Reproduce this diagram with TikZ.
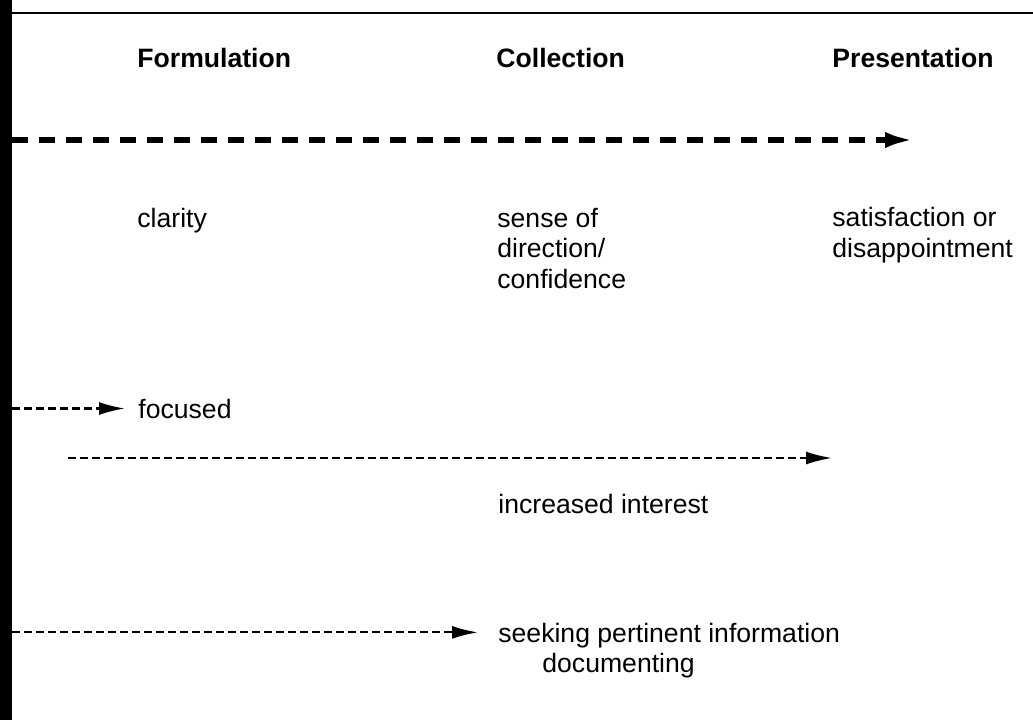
\documentclass[tikz,border=0pt]{standalone}
\usepackage{fontspec}
\setmainfont{Liberation Sans}
\usetikzlibrary{positioning, arrows.meta}

\begin{document}
\begin{tikzpicture}[
    x=0.5pt, y=-0.5pt,
    phase/.style={anchor=base west, inner sep=0pt, font=\fontsize{13.3}{15.25}\selectfont\bfseries},
    feeling/.style={anchor=base west, inner sep=0pt, align=left, font=\fontsize{13.3}{15.25}\selectfont},
    heavyarrow/.style={line width=3pt, dash pattern=on 8pt off 5.5pt, -{Latex[length=15pt, width=8pt]}},
    thinarrow/.style={line width=1.1pt, dash pattern=on 4pt off 2pt, -{Latex[length=13pt, width=6.5pt]}},
    frame/.style={line width=1pt}
]
\useasboundingbox (0,0) rectangle (1033,720);

% Rand
\fill (0,0) rectangle (12,720);
\draw[frame] (0,13) -- (1033,13);
\coordinate (bar) at (12,0);

% Knoten (base = letzte Zeile)
\node[phase] (form) at (137,67) {Formulation};
\node[phase] (coll) at (496,67) {Collection};
\node[phase] (pres) at (832,67) {Presentation};
\node[feeling] (clar) at (137,227) {clarity};
\node[feeling] (sense) at (497,288) {sense of\\direction/\\confidence};
\node[feeling] (satis) at (832,257) {satisfaction or\\disappointment};
\node[feeling] (foc) at (138,418) {focused};
\node[feeling] (inter) at (498,513) {increased interest};
\node[feeling, text depth=0pt] (seek) at (498,642) {seeking pertinent information};
\node[feeling] (doc) at ([xshift=22pt, yshift=-15.25pt]seek.base west) {documenting};

% Pfeile
\coordinate (heavyS) at (12,140);
\coordinate (heavyE) at (915,140);
\coordinate (midS) at (68,458);
\coordinate (midE) at (832,458);
\draw[heavyarrow] (heavyS) -- (heavyE);
\draw[thinarrow, shorten >=6.5pt] (bar |- foc.west) -- (foc.west);
\draw[thinarrow] (midS) -- (midE);
\draw[thinarrow, shorten >=10pt] (bar |- seek.west) -- (seek.west);

\end{tikzpicture}
\end{document}
